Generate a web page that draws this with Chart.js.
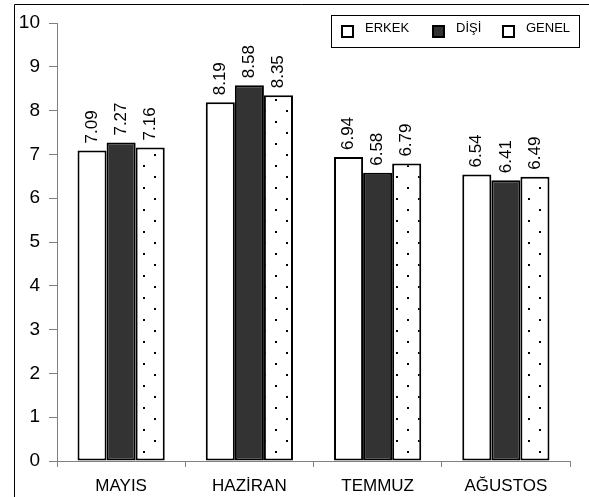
<!DOCTYPE html>
<html>
<head>
<meta charset="utf-8">
<script src="https://cdn.jsdelivr.net/npm/chart.js@4/dist/chart.umd.min.js"></script>
<style>
html,body{margin:0;padding:0;background:#fff;}
#c{display:block;}
</style>
</head>
<body>
<canvas id="c" width="589" height="497"></canvas>
<script>
const categories = ['MAYIS', 'HAZİRAN', 'TEMMUZ', 'AĞUSTOS'];
const seriesNames = ['ERKEK', 'DİŞİ', 'GENEL'];
const erkek = [7.09, 8.19, 6.94, 6.54];
const disi = [7.27, 8.58, 6.58, 6.41];
const genel = [7.16, 8.35, 6.79, 6.49];
const yMin = 0, yMax = 10, yStep = 1;

const FONT = '"Liberation Sans", Arial, sans-serif';

function dotPattern() {
  const pc = document.createElement('canvas');
  pc.width = 22; pc.height = 22;
  const p = pc.getContext('2d');
  p.fillStyle = '#fff';
  p.fillRect(0, 0, 22, 22);
  p.fillStyle = '#000';
  p.fillRect(0, 0, 2, 2);
  p.fillRect(11, 11, 2, 2);
  return document.getElementById('c').getContext('2d').createPattern(pc, 'repeat');
}
const pat = dotPattern();

const framePlugin = {
  id: 'frame',
  beforeDraw(chart) {
    const ctx = chart.ctx;
    ctx.save();
    ctx.fillStyle = '#fff';
    ctx.fillRect(0, 0, chart.width, chart.height);
    ctx.strokeStyle = '#000';
    ctx.lineWidth = 1;
    ctx.beginPath();
    ctx.moveTo(14.5, 497);
    ctx.lineTo(14.5, 4.5);
    ctx.lineTo(589, 4.5);
    ctx.stroke();
    ctx.restore();
  }
};

const labelPlugin = {
  id: 'vlabels',
  afterDatasetsDraw(chart) {
    const ctx = chart.ctx;
    ctx.save();
    ctx.fillStyle = '#000';
    ctx.font = '17px ' + FONT;
    ctx.textAlign = 'left';
    ctx.textBaseline = 'middle';
    chart.data.datasets.forEach((ds, di) => {
      const meta = chart.getDatasetMeta(di);
      meta.data.forEach((el, i) => {
        ctx.save();
        ctx.translate(el.x, el.y - 7);
        ctx.rotate(-Math.PI / 2);
        ctx.fillText(ds.data[i].toFixed(2), 0, 0);
        ctx.restore();
      });
    });
    ctx.restore();
  }
};

const legendPlugin = {
  id: 'boxlegend',
  afterDraw(chart) {
    const ctx = chart.ctx;
    ctx.save();
    const bx = 331, by = 15, bw = 248, bh = 32;
    ctx.fillStyle = '#fff';
    ctx.fillRect(bx, by, bw, bh);
    ctx.strokeStyle = '#000';
    ctx.lineWidth = 1;
    ctx.strokeRect(bx + 0.5, by + 0.5, bw, bh);
    const mx = [342, 433, 503];
    ctx.font = '13px ' + FONT;
    ctx.textBaseline = 'alphabetic';
    chart.data.datasets.forEach((ds, i) => {
      ctx.fillStyle = i === 1 ? '#333333' : '#fff';
      ctx.fillRect(mx[i], 26, 11, 11);
      ctx.lineWidth = 2;
      ctx.strokeStyle = '#000';
      ctx.strokeRect(mx[i], 26, 11, 11);
      ctx.fillStyle = '#000';
      ctx.fillText(ds.label, mx[i] + 23, 32);
    });
    ctx.restore();
  }
};

new Chart(document.getElementById('c'), {
  type: 'bar',
  data: {
    labels: categories,
    datasets: [
      { label: seriesNames[0], data: erkek, backgroundColor: '#ffffff' },
      { label: seriesNames[1], data: disi, backgroundColor: '#333333' },
      { label: seriesNames[2], data: genel, backgroundColor: pat }
    ]
  },
  options: {
    responsive: false,
    animation: false,
    devicePixelRatio: 1,
    layout: { padding: { top: 23, right: 19, left: 0, bottom: 0 } },
    datasets: {
      bar: {
        borderColor: '#000',
        borderWidth: 2,
        borderSkipped: false,
        categoryPercentage: 0.68,
        barPercentage: 1
      }
    },
    plugins: { legend: { display: false }, tooltip: { enabled: false } },
    scales: {
      x: {
        grid: { offset: true, drawOnChartArea: false, tickLength: 6, color: '#808080' },
        border: { color: '#808080' },
        ticks: { color: '#000', font: { family: FONT, size: 17 }, padding: 9, maxRotation: 0 },
        afterFit(s) { s.height = 36; }
      },
      y: {
        min: yMin, max: yMax,
        grid: { drawOnChartArea: false, tickLength: 8, color: '#808080' },
        border: { color: '#808080' },
        ticks: { stepSize: yStep, color: '#000', font: { family: FONT, size: 19 }, padding: 9 },
        afterFit(s) { s.width = 57; }
      }
    }
  },
  plugins: [framePlugin, labelPlugin, legendPlugin]
});
</script>
</body>
</html>
